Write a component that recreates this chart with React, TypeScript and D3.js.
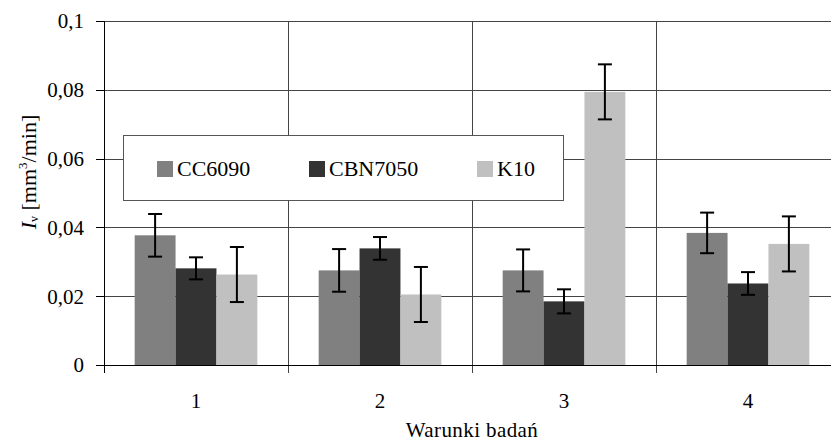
import { useEffect, useRef } from "react";
import * as d3 from "d3";

const categories = ["1", "2", "3", "4"];
const seriesNames = ["CC6090", "CBN7050", "K10"];
const seriesColors = ["#808080", "#333333", "#c0c0c0"];

// mean wear rate per test condition
const cc6090 = [0.0377, 0.0275, 0.0275, 0.0384];
const cbn7050 = [0.0281, 0.0339, 0.0185, 0.0237];
const k10 = [0.0263, 0.0205, 0.0794, 0.0352];

// error bar half-lengths
const cc6090Err = [0.0062, 0.0062, 0.0061, 0.0059];
const cbn7050Err = [0.0032, 0.0033, 0.0035, 0.0033];
const k10Err = [0.008, 0.008, 0.008, 0.008];

const yTicks = [0, 0.02, 0.04, 0.06, 0.08, 0.1];

const App = () => {
  const ref = useRef<SVGSVGElement | null>(null);
  const width = 831;
  const height = 443;

  useEffect(() => {
    const svg = d3.select(ref.current);
    svg.selectAll("*").remove();

    const font = "'Liberation Serif', 'Times New Roman', serif";
    const left = 104;
    const right = 840; // plot runs past the picture edge
    const top = 21;
    const bottom = 365;

    const values = [cc6090, cbn7050, k10];
    const errors = [cc6090Err, cbn7050Err, k10Err];

    const x = d3.scaleBand().domain(categories).range([left, right]).padding(0);
    const xs = d3
      .scaleBand()
      .domain(seriesNames)
      .range([0, x.bandwidth()])
      .paddingInner(0)
      .paddingOuter(0.75);
    const y = d3.scaleLinear().domain([0, 0.1]).range([bottom, top]);

    const fmt = (d: number) => (d === 0 ? "0" : String(+d.toFixed(2)).replace(".", ","));

    // horizontal gridlines
    svg
      .selectAll("line.grid")
      .data(yTicks.filter((d) => d > 0))
      .enter()
      .append("line")
      .attr("x1", left)
      .attr("x2", right)
      .attr("y1", (d) => Math.round(y(d)) + 0.5)
      .attr("y2", (d) => Math.round(y(d)) + 0.5)
      .attr("stroke", "#444")
      .attr("stroke-width", 1);

    // vertical category separators, extended below the axis as ticks
    svg
      .selectAll("line.vsep")
      .data(categories.slice(1))
      .enter()
      .append("line")
      .attr("x1", (d) => Math.round(x(d)!) + 0.5)
      .attr("x2", (d) => Math.round(x(d)!) + 0.5)
      .attr("y1", top)
      .attr("y2", bottom + 8)
      .attr("stroke", "#444")
      .attr("stroke-width", 1);

    // bars
    seriesNames.forEach((s, si) => {
      svg
        .append("g")
        .selectAll("rect")
        .data(values[si])
        .enter()
        .append("rect")
        .attr("x", (d, i) => x(categories[i])! + xs(s)!)
        .attr("y", (d) => y(d))
        .attr("width", xs.bandwidth())
        .attr("height", (d) => bottom - y(d))
        .attr("fill", seriesColors[si]);
    });

    // error bars
    seriesNames.forEach((s, si) => {
      const g = svg.append("g").attr("stroke", "#000").attr("stroke-width", 2);
      values[si].forEach((v, i) => {
        const cx = x(categories[i])! + xs(s)! + xs.bandwidth() / 2;
        const hi = y(v + errors[si][i]);
        const lo = y(v - errors[si][i]);
        g.append("line").attr("x1", cx).attr("x2", cx).attr("y1", hi).attr("y2", lo);
        g.append("line").attr("x1", cx - 7).attr("x2", cx + 7).attr("y1", hi).attr("y2", hi);
        g.append("line").attr("x1", cx - 7).attr("x2", cx + 7).attr("y1", lo).attr("y2", lo);
      });
    });

    // axes lines
    svg
      .append("line")
      .attr("x1", left + 0.5)
      .attr("x2", left + 0.5)
      .attr("y1", top)
      .attr("y2", bottom + 8)
      .attr("stroke", "#000");
    svg
      .append("line")
      .attr("x1", left - 8)
      .attr("x2", right)
      .attr("y1", bottom + 0.5)
      .attr("y2", bottom + 0.5)
      .attr("stroke", "#000");

    // y ticks and labels
    svg
      .selectAll("line.ytick")
      .data(yTicks)
      .enter()
      .append("line")
      .attr("x1", left - 8)
      .attr("x2", left)
      .attr("y1", (d) => Math.round(y(d)) + 0.5)
      .attr("y2", (d) => Math.round(y(d)) + 0.5)
      .attr("stroke", "#000");
    svg
      .selectAll("text.ylab")
      .data(yTicks)
      .enter()
      .append("text")
      .attr("x", 84)
      .attr("y", (d) => y(d))
      .attr("dy", "0.35em")
      .attr("text-anchor", "end")
      .style("font-family", font)
      .style("font-size", "21px")
      .text(fmt);

    // x labels
    svg
      .selectAll("text.xlab")
      .data(categories)
      .enter()
      .append("text")
      .attr("x", (d) => x(d)! + x.bandwidth() / 2)
      .attr("y", 408)
      .attr("text-anchor", "middle")
      .style("font-family", font)
      .style("font-size", "21px")
      .text((d) => d);

    // x title
    svg
      .append("text")
      .attr("x", (left + right) / 2)
      .attr("y", 437)
      .attr("text-anchor", "middle")
      .style("font-family", font)
      .style("font-size", "21px")
      .style("letter-spacing", "0.4px")
      .text("Warunki badań");

    // y title
    const yt = svg
      .append("text")
      .attr("transform", "translate(36,172) rotate(-90)")
      .attr("text-anchor", "middle")
      .style("font-family", font)
      .style("font-size", "22px");
    yt.append("tspan").style("font-style", "italic").text("I");
    yt.append("tspan").style("font-size", "12px").attr("dy", 2).text("v");
    yt.append("tspan").attr("dy", -2).text(" [mm");
    yt.append("tspan").style("font-size", "13px").attr("dy", -9).text("3");
    yt.append("tspan").attr("dy", 9).text("/min]");

    // legend
    const lg = svg.append("g");
    lg.append("rect")
      .attr("x", 123.5)
      .attr("y", 135.5)
      .attr("width", 440)
      .attr("height", 65)
      .attr("fill", "#fff")
      .attr("stroke", "#555");
    const legendX = [157, 309, 477];
    seriesNames.forEach((s, si) => {
      lg.append("rect")
        .attr("x", legendX[si])
        .attr("y", 161)
        .attr("width", 16)
        .attr("height", 16)
        .attr("fill", seriesColors[si]);
      lg.append("text")
        .attr("x", legendX[si] + 20)
        .attr("y", 176)
        .style("font-family", font)
        .style("font-size", "22px")
        .text(s);
    });
  }, []);

  return (
    <svg
      ref={ref}
      width={width}
      height={height}
      style={{ position: "absolute", left: 0, top: 0, background: "#fff" }}
    />
  );
};

export default App;
